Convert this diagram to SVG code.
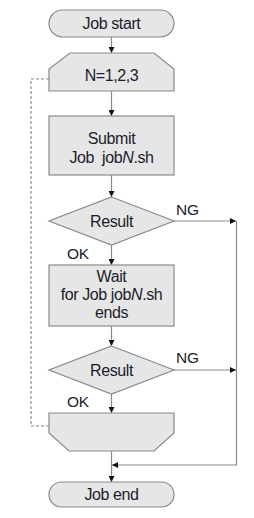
<svg xmlns="http://www.w3.org/2000/svg" width="254" height="518" viewBox="0 0 254 518">
<defs>
<marker id="ah" markerWidth="6" markerHeight="6" refX="6" refY="3" orient="auto" markerUnits="userSpaceOnUse">
<path d="M0,0 L6,3 L0,6 Z" fill="#111"/>
</marker>
<style>
.shape{fill:#e6e6e6;stroke:#8a8a8a;stroke-width:1.2}
.t{font-family:"Liberation Sans",Arial,sans-serif;font-size:16px;letter-spacing:-0.4px;fill:#1c1c2c;text-anchor:middle}
.lbl{font-family:"Liberation Sans",Arial,sans-serif;font-size:15.5px;letter-spacing:-0.3px;fill:#1c1c2c}
.c{fill:none;stroke:#8a8a8a;stroke-width:1.2}
.d{fill:none;stroke:#8a8a8a;stroke-width:1.2;stroke-dasharray:3,2}
</style>
</defs>
<rect width="254" height="518" fill="#fff"/>
<g id="connectors">
<line class="c" x1="111.5" y1="37" x2="111.5" y2="53" marker-end="url(#ah)"/>
<line class="c" x1="111.5" y1="91" x2="111.5" y2="116" marker-end="url(#ah)"/>
<line class="c" x1="111.5" y1="175" x2="111.5" y2="197" marker-end="url(#ah)"/>
<line class="c" x1="111.5" y1="245" x2="111.5" y2="265" marker-end="url(#ah)"/>
<line class="c" x1="111.5" y1="326" x2="111.5" y2="346" marker-end="url(#ah)"/>
<line class="c" x1="111.5" y1="394" x2="111.5" y2="413" marker-end="url(#ah)"/>
<line class="c" x1="111.5" y1="451" x2="111.5" y2="482" marker-end="url(#ah)"/>
<line class="c" x1="174" y1="221" x2="236" y2="221" marker-end="url(#ah)"/>
<line class="c" x1="174" y1="370" x2="236" y2="370" marker-end="url(#ah)"/>
<polyline class="c" points="236.5,221 236.5,465 112,465" marker-end="url(#ah)"/>
<polyline class="d" points="49,79 31,79 31,426 49,426"/>
<text class="lbl" x="176" y="215">NG</text>
<text class="lbl" x="176" y="363">NG</text>
<text class="lbl" x="67" y="259">OK</text>
<text class="lbl" x="67" y="407">OK</text>
</g>
<g id="job-start">
<rect class="shape" x="49" y="10" width="125" height="27" rx="13.5" ry="13.5"/>
<text class="t" x="111.5" y="29">Job start</text>
</g>
<g id="loop-start">
<polygon class="shape" points="70,53 154,53 174,69 174,91 49,91 49,69"/>
<text class="t" x="111.5" y="81">N=1,2,3</text>
</g>
<g id="submit">
<rect class="shape" x="49" y="116" width="125" height="59"/>
<text class="t" x="111.5" y="144">Submit</text>
<text class="t" x="111.5" y="162.5" xml:space="preserve">Job  job<tspan font-style="italic">N</tspan>.sh</text>
</g>
<g id="result1">
<polygon class="shape" points="111.5,197 174,221 111.5,245 49,221"/>
<text class="t" x="111.5" y="226.5">Result</text>
</g>
<g id="wait">
<rect class="shape" x="49" y="265" width="125" height="61"/>
<text class="t" x="111.5" y="282">Wait</text>
<text class="t" x="111.5" y="300">for Job job<tspan font-style="italic">N</tspan>.sh</text>
<text class="t" x="111.5" y="318">ends</text>
</g>
<g id="result2">
<polygon class="shape" points="111.5,346 174,370 111.5,394 49,370"/>
<text class="t" x="111.5" y="375.5">Result</text>
</g>
<g id="loop-end">
<polygon class="shape" points="49,413 174,413 174,433 154,451 69,451 49,433"/>
</g>
<g id="job-end">
<rect class="shape" x="49" y="482" width="125" height="25" rx="12.5" ry="12.5"/>
<text class="t" x="111.5" y="500">Job end</text>
</g>
</svg>
